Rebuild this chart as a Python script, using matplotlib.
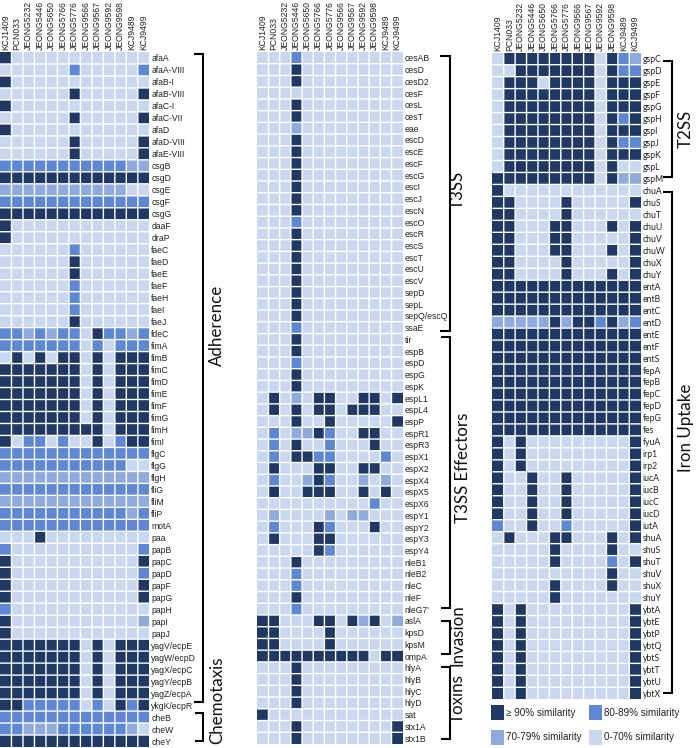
import numpy as np
import matplotlib
matplotlib.use("Agg")
import matplotlib.pyplot as plt
from matplotlib.colors import ListedColormap, BoundaryNorm
from matplotlib.lines import Line2D
from matplotlib.patches import Rectangle

W, H = 696, 748
strains = ["KCJ1409", "PCN033", "JEONG5232", "JEONG5446", "JEONG5650", "JEONG5766", "JEONG5776",
           "JEONG9566", "JEONG9567", "JEONG9592", "JEONG9598", "KCJ9489", "KCJ9499"]

# similarity class per gene: 3 >=90 %, 2 80-89 %, 1 70-79 %, 0 0-70 %
left_genes = ["afaA", "afaA-VIII", "afaB-I", "afaB-VIII", "afaC-I", "afaC-VII", "afaD", "afaD-VIII", "afaE-VIII",
              "csgB", "csgD", "csgE", "csgF", "csgG", "daaF", "draP", "faeC", "faeD", "faeE", "faeF", "faeH", "faeI",
              "faeJ", "fdeC", "fimA", "fimB", "fimC", "fimD", "fimE", "fimF", "fimG", "fimH", "fimI", "flgC", "flgG",
              "flgH", "fliG", "fliM", "fliP", "motA", "paa", "papB", "papC", "papD", "papF", "papG", "papH", "papI",
              "papJ", "yagV/ecpE", "yagW/ecpD", "yagX/ecpC", "yagY/ecpB", "yagZ/ecpA", "ykgK/ecpR", "cheB", "cheW",
              "cheY"]
left_values = ["3000000000000", "0000002000002", "3000000000000", "0000003000003", "3000000000000", "0000003000003",
               "3000000000000", "0000003000003", "0000003000003", "2222222222211", "3333333333333", "1111111111100",
               "2222222222222", "3333333333333", "3000000000000", "3000000000000", "0000002000000", "0000003000000",
               "0000003000000", "0000002000000", "0000002000000", "0000002000000", "0000003000000", "2212122032212",
               "2222222020222", "0303033030333", "3333333030333", "3333333030333", "3333333030333", "3333333030333",
               "3333333030333", "3333333330333", "3022020030233", "2222222222222", "2222222222200", "1111111111111",
               "2222222222222", "1111111111111", "2222222222212", "2222222222222", "0003000000000", "2000000000002",
               "3000000000003", "3000000000002", "3000000000003", "3000000000003", "2000000000000", "3000000000001",
               "3000000000000", "3333333030333", "3333333030333", "3333333030333", "3333333030333", "3333333030333",
               "3322222020323", "2222222222222", "2211122222210", "3333333333333"]

mid_genes = ["cesAB", "cesD", "cesD2", "cesF", "cesL", "cesT", "eae", "escD", "escE", "escF", "escG", "escI", "escJ",
             "escN", "escO", "escR", "escS", "escT", "escU", "escV", "sepD", "sepL", "sepQ/escQ", "ssaE", "tir", "espB",
             "espD", "espG", "espK", "espL1", "espL4", "espP", "espR1", "espR3", "espX1", "espX2", "espX4", "espX5",
             "espX6", "espY1", "espY2", "espY3", "espY4", "nleB1", "nleB2", "nleC", "nleF", "nleG7'", "aslA", "kpsD",
             "kpsM", "ompA", "hlyA", "hlyB", "hlyC", "hlyD", "sat", "stx1A", "stx1B"]
mid_values = ["0002000000000", "0003000000000", "0003000000000", "0000000000000", "0003000000000", "0003000000000",
              "0001000000000", "0003000000000", "0003000000000", "0003000000000", "0003000000000", "0003000000000",
              "0003000000000", "0003000000000", "0002000000000", "0003000000000", "0003000000000", "0003000000000",
              "0003000000000", "0003000000000", "0003000000000", "0003000000000", "0003000000000", "0002000000000",
              "0003000000000", "0003000000000", "0002000000000", "0003000000000", "0003000000000", "0301033003303",
              "0303033033300", "0003003000003", "0201132003300", "0203002000300", "0203322000020", "0300033003300",
              "0200132001010", "0300333003030", "0000000000200", "0100001011000", "0200032000300", "0300033000000",
              "0000032000000", "0003000000000", "0002000000000", "0002000000000", "0003000000000", "0002000000000",
              "3300033031301", "3300003000000", "3300003000000", "3333333333033", "0003000000000", "0003000000000",
              "0003000000000", "0003000000000", "3000000000000", "0003000000003", "0003000000003"]

right_genes = ["gspC", "gspD", "gspE", "gspF", "gspG", "gspH", "gspI", "gspJ", "gspK", "gspL", "gspM", "chuA", "chuS",
               "chuT", "chuU", "chuV", "chuW", "chuX", "chuY", "entA", "entB", "entC", "entD", "entE", "entF", "entS",
               "fepA", "fepB", "fepC", "fepD", "fepG", "fes", "fyuA", "irp1", "irp2", "iucA", "iucB", "iucC", "iucD",
               "iutA", "shuA", "shuS", "shuT", "shuV", "shuX", "shuY", "ybtA", "ybtE", "ybtP", "ybtQ", "ybtS", "ybtT",
               "ybtU", "ybtX"]
right_values = ["0333333330321", "0033333330322", "0333033330333", "0333333330333", "0333333330333", "0333333330323",
                "0333333330333", "0333333330322", "0333333330333", "0333333330300", "3333333330311", "3000000000000",
                "3300003000003", "3300003000000", "3300033000303", "3300033000003", "3300033000303", "3300003000003",
                "3300003000303", "3333333333333", "3333333333333", "3333333333333", "1111131332312", "3333333333333",
                "3333333333333", "3333333333333", "3333333333333", "3333333333333", "3333333333333", "3333333333333",
                "3333333333333", "3333333333333", "3030000000003", "3030000000003", "3030000000003", "3003003000003",
                "3003003000003", "3003003000003", "3003003000003", "2003002000003", "0300033000303", "0000030000300",
                "0000030000203", "0000000000300", "0000030000300", "0000030000000", "3030000000003", "3030000000003",
                "3030000000003", "3030000000003", "3030000000003", "3030000000003", "3030000000003", "3030000000003"]

colors = ["#CAD8EF", "#8FABDD", "#5E88D3", "#203864"]
legend_labels = ["\u2265 90% similarity", "80-89% similarity", "70-79% similarity", "0-70% similarity"]

cmap = ListedColormap(colors)
norm = BoundaryNorm([-0.5, 0.5, 1.5, 2.5, 3.5], 4)
plt.rcParams["font.family"] = ["Liberation Sans", "DejaVu Sans"]
fig = plt.figure(figsize=(W / 100, H / 100), dpi=100)


def panel(x0, x1, y0, y1, genes, values, label_font):
    ax = fig.add_axes([x0 / W, 1 - y1 / H, (x1 - x0) / W, (y1 - y0) / H])
    data = np.array([[int(c) for c in row] for row in values])
    ax.pcolormesh(data, cmap=cmap, norm=norm)
    n_rows, n_cols = data.shape
    ax.vlines(np.arange(1, n_cols), 0, n_rows, color="#FFFFFF", lw=1.0, snap=False)
    ax.hlines(np.arange(1, n_rows), 0, n_cols, color="#FFFFFF", lw=1.0, snap=False)
    ax.set_xlim(0, len(strains))
    ax.set_ylim(len(genes), 0)
    ax.set_xticks(np.arange(len(strains)) + 0.5)
    ax.set_xticklabels(strains, rotation=90, fontsize=6.25, color="#222222")
    ax.set_yticks(np.arange(len(genes)) + 0.5)
    ax.set_yticklabels(genes, fontsize=6.25, color="#222222", family=label_font)
    ax.xaxis.tick_top()
    ax.yaxis.tick_right()
    ax.tick_params(length=0, pad=1.5)
    for s in ax.spines.values():
        s.set_visible(False)
    return ax


panel(0, 149.3, 52, 747, left_genes, left_values, "Liberation Sans")
panel(257.3, 402.7, 52, 744, mid_genes, mid_values, "Liberation Sans")
panel(492.3, 640.7, 52.7, 699.3, right_genes, right_values, "Lato")


def bracket(x_tick, x_spine, y_top, y_bot):
    xs = np.array([x_tick, x_spine, x_spine, x_tick]) / W
    ys = 1 - np.array([y_top, y_top, y_bot, y_bot]) / H
    fig.add_artist(Line2D(xs, ys, color="black", lw=1.5, solid_joinstyle="miter",
                          solid_capstyle="butt", transform=fig.transFigure))


def group_label(x, y, s):
    fig.text(x / W, 1 - y / H, s, rotation=90, ha="center", va="center", fontsize=12.2, family="Lato", color="#111111")


for args in [(194, 203, 53.5, 702), (195, 203, 712.7, 740.7), (440, 449.5, 55.7, 331), (441, 449.5, 337, 608),
             (441, 449.5, 621, 654), (441, 449.5, 666.7, 739), (663, 671.7, 60.7, 176.7), (663, 671.7, 191.7, 692.7)]:
    bracket(*args)

for x, y, s in [(217, 325, "Adherence"), (217, 700, "Chemotaxis"), (458, 190, "T3SS"), (462.7, 468, "T3SS Effectors"),
                (458, 635, "Invasion"), (458, 699, "Toxins"), (686, 129, "T2SS"), (686, 428, "Iron Uptake")]:
    group_label(x, y, s)

legend_pos = [(490.7, 705), (588.7, 705), (490.7, 730), (588.7, 730)]
for (x, y), c, t in zip(legend_pos, colors[::-1], legend_labels):
    fig.add_artist(Rectangle((x / W, 1 - (y + 14.5) / H), 13.5 / W, 14.5 / H, color=c, lw=0, transform=fig.transFigure))
    fig.text((x + 15.5) / W, 1 - (y + 7.5) / H, t, ha="left", va="center", fontsize=7.1, color="#222222")

fig.savefig("out.png", dpi=100)
